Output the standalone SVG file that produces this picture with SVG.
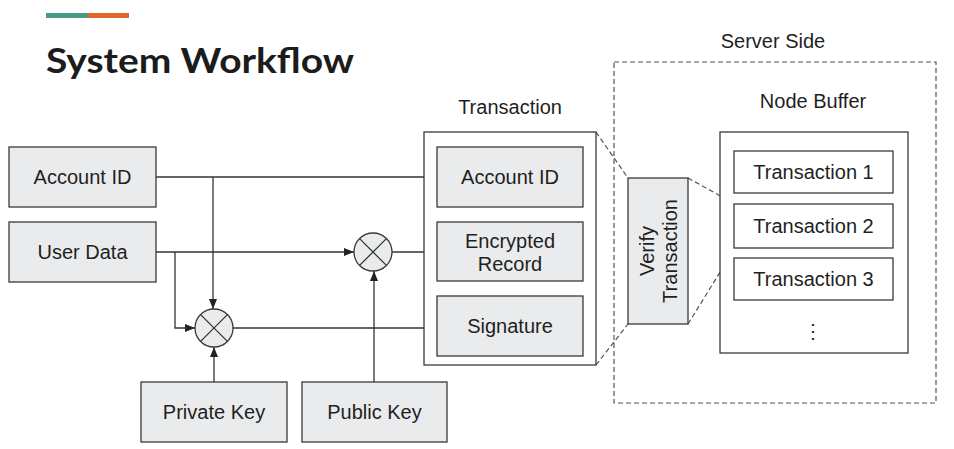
<svg xmlns="http://www.w3.org/2000/svg" width="954" height="449" viewBox="0 0 954 449">
<defs>
<style>
.box{fill:#e9ebec;stroke:#3a3a3a;stroke-width:1.3}
.wbox{fill:#ffffff;stroke:#3a3a3a;stroke-width:1.3}
.t{font-family:"Liberation Sans",Arial,sans-serif;font-size:20px;fill:#1f1f1f;text-anchor:middle}
.ln{fill:none;stroke:#333;stroke-width:1.3}
.dash{fill:none;stroke:#555;stroke-width:1.2;stroke-dasharray:5,3}
.op{fill:#e9ebec;stroke:#3a3a3a;stroke-width:1.3}
</style>
<marker id="arr" markerWidth="10" markerHeight="8" refX="10" refY="4" orient="auto" markerUnits="userSpaceOnUse">
<path d="M0,0 L10,4 L0,8 Z" fill="#222"/>
</marker>
</defs>
<rect width="954" height="449" fill="#ffffff"/>
<g id="header">
<rect x="46" y="13" width="42" height="5" fill="#4a9a8a"/>
<rect x="88" y="13" width="41" height="5" fill="#e0662e"/>
<text x="46" y="73" font-family="Lato,'Open Sans',sans-serif" font-weight="bold" font-size="34" fill="#1c1c1c" textLength="308" lengthAdjust="spacingAndGlyphs">System Workflow</text>
</g>
<g id="connectors">
<path class="ln" d="M156,177 H436" marker-end="url(#arr)"/>
<path class="ln" d="M213,177 V309" marker-end="url(#arr)"/>
<path class="ln" d="M156,252 H354" marker-end="url(#arr)"/>
<path class="ln" d="M175,252 V328 H195" marker-end="url(#arr)"/>
<path class="ln" d="M233,328 H436" marker-end="url(#arr)"/>
<path class="ln" d="M392,252 H436" marker-end="url(#arr)"/>
<path class="ln" d="M214,382 V347" marker-end="url(#arr)"/>
<path class="ln" d="M374,382 V271" marker-end="url(#arr)"/>
<path class="dash" d="M596,132 L628,178"/>
<path class="dash" d="M596,365 L628,324"/>
<path class="dash" d="M688,178 L735,204"/>
<path class="dash" d="M688,324 L735,248"/>
</g>
<g id="account-id">
<rect class="box" x="9" y="147" width="147" height="60"/>
<text class="t" x="82.5" y="184">Account ID</text>
</g>
<g id="user-data">
<rect class="box" x="9" y="222" width="147" height="60"/>
<text class="t" x="82.5" y="259">User Data</text>
</g>
<g id="private-key">
<rect class="box" x="141" y="382" width="146" height="60"/>
<text class="t" x="214" y="419">Private Key</text>
</g>
<g id="public-key">
<rect class="box" x="302" y="382" width="145" height="60"/>
<text class="t" x="374.5" y="419">Public Key</text>
</g>
<g id="sign-op">
<circle class="op" cx="214" cy="328" r="19"/>
<path class="ln" d="M200.6,314.6 L227.4,341.4 M227.4,314.6 L200.6,341.4"/>
</g>
<g id="encrypt-op">
<circle class="op" cx="373" cy="252" r="19"/>
<path class="ln" d="M359.6,238.6 L386.4,265.4 M386.4,238.6 L359.6,265.4"/>
</g>
<g id="transaction">
<text class="t" x="510" y="114">Transaction</text>
<rect class="wbox" x="424" y="132" width="172" height="233"/>
<g id="tx-account-id">
<rect class="box" x="437" y="147" width="146" height="60"/>
<text class="t" x="510" y="184">Account ID</text>
</g>
<g id="tx-encrypted-record">
<rect class="box" x="437" y="222" width="146" height="59"/>
<text class="t" x="510" y="248">Encrypted</text>
<text class="t" x="510" y="271">Record</text>
</g>
<g id="tx-signature">
<rect class="box" x="437" y="296" width="146" height="60"/>
<text class="t" x="510" y="333">Signature</text>
</g>
</g>
<g id="server-side">
<text class="t" x="773" y="48">Server Side</text>
<rect class="dash" x="614" y="62" width="322" height="341"/>
</g>
<g id="verify-transaction">
<rect class="box" x="628" y="178" width="60" height="146"/>
<g transform="translate(658,251) rotate(-90)">
<text class="t" x="0" y="-4">Verify</text>
<text class="t" x="0" y="19">Transaction</text>
</g>
</g>
<g id="node-buffer">
<text class="t" x="813" y="108">Node Buffer</text>
<rect class="wbox" x="720" y="132" width="188" height="221"/>
<g id="tx1">
<rect class="wbox" x="734" y="151" width="159" height="42"/>
<text class="t" x="813.5" y="179">Transaction 1</text>
</g>
<g id="tx2">
<rect class="wbox" x="734" y="204" width="159" height="44"/>
<text class="t" x="813.5" y="233">Transaction 2</text>
</g>
<g id="tx3">
<rect class="wbox" x="734" y="258" width="159" height="42"/>
<text class="t" x="813.5" y="286">Transaction 3</text>
</g>
<text class="t" x="813" y="338">⋮</text>
</g>
</svg>
